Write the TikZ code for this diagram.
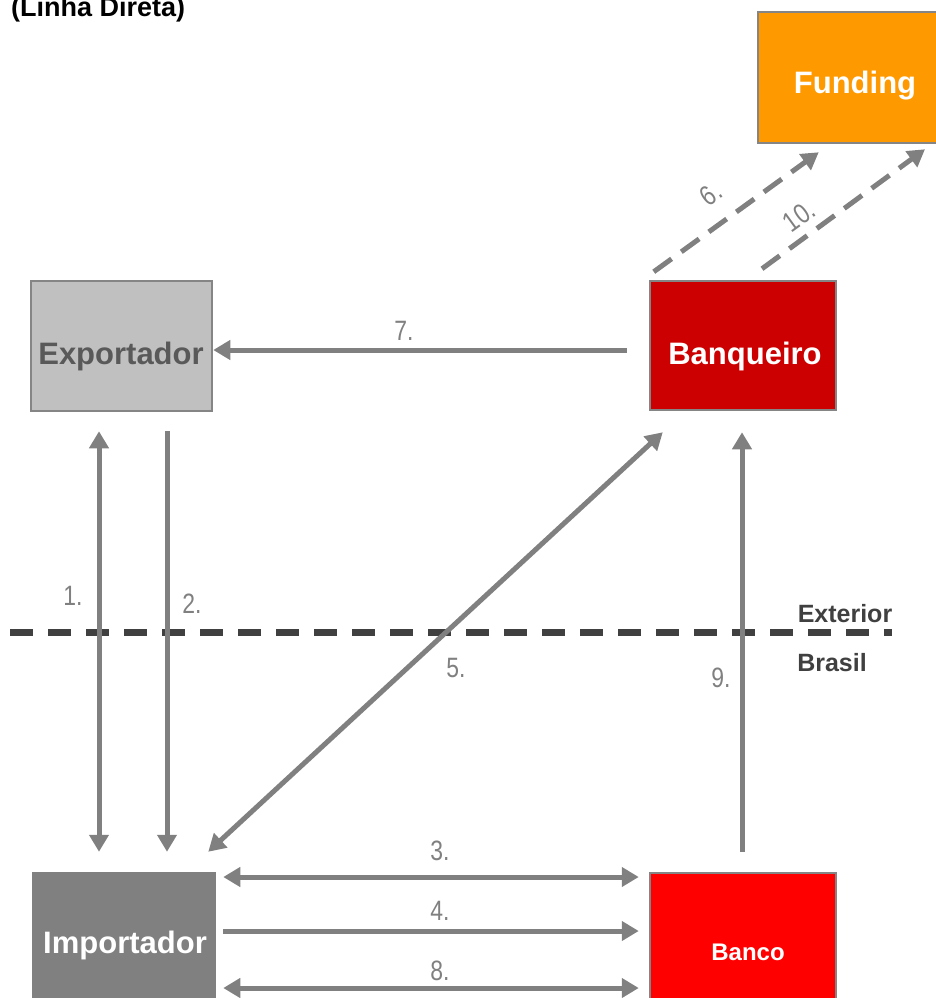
\documentclass[tikz,border=0pt]{standalone}
\usepackage{fontspec}
\setmainfont{Liberation Sans}
\newfontfamily\narrowfont[FakeStretch=0.82]{Liberation Sans}
\usetikzlibrary{arrows.meta}

\definecolor{flowgray}{HTML}{808080}
\definecolor{edgegray}{HTML}{858585}
\definecolor{darktext}{HTML}{404040}
\definecolor{exptext}{HTML}{595959}
\definecolor{expfill}{HTML}{C0C0C0}
\definecolor{impfill}{HTML}{808080}
\definecolor{fundfill}{HTML}{FF9900}
\definecolor{banqfill}{HTML}{CC0000}
\definecolor{bancofill}{HTML}{FF0000}

\tikzset{
  box/.style={draw=edgegray, line width=2.5pt, inner sep=0pt},
  boxtext/.style={font=\bfseries\fontsize{31}{36}\selectfont, inner sep=0pt},
  flow/.style={draw=flowgray, line width=5pt,
    arrows={-Triangle[length=17pt,width=19pt]}},
  flowboth/.style={flow, arrows={Triangle[length=17pt,width=19pt]-Triangle[length=17pt,width=19pt]}},
  flowdash/.style={flow, dash pattern=on 22pt off 12pt},
  steplabel/.style={text=flowgray, font=\narrowfont\fontsize{28}{32}\selectfont, inner sep=0pt},
  zonelabel/.style={text=darktext, font=\bfseries\fontsize{25}{30}\selectfont, inner sep=0pt}
}

\begin{document}
\begin{tikzpicture}[x=1pt,y=-1pt]
\useasboundingbox (0,0) rectangle (936,998);
\clip (0,0) rectangle (936,998);

% heading
\node[anchor=base west, inner sep=0pt, font=\bfseries\fontsize{27}{30}\selectfont]
  (title) at (11,17) {(Linha Direta)};

% parties
\node[box, fill=fundfill, minimum width=190pt, minimum height=131pt] (fund) at (853,77.5) {};
\node[box, fill=expfill, minimum width=181pt, minimum height=130pt] (exp) at (121.5,346) {};
\node[box, fill=banqfill, minimum width=186pt, minimum height=129pt] (ban) at (743,345.5) {};
\node[box, draw=impfill, fill=impfill, minimum width=182pt, minimum height=130pt] (imp) at (124,938) {};
\node[box, fill=bancofill, minimum width=186pt, minimum height=130pt] (banco) at (743,938) {};

\node[boxtext, text=white] (fundtext) at (855,86) {Funding};
\node[boxtext, text=exptext] (exptxt) at (121,356) {Exportador};
\node[boxtext, text=white] (bantext) at (745,356) {Banqueiro};
\node[boxtext, text=white] (imptext) at (125,945) {Importador};
\node[boxtext, text=white, font=\bfseries\fontsize{24}{28}\selectfont] (bancotext) at (748,952) {Banco};

% border between abroad and Brazil
\draw[draw=darktext, line width=7pt, dash pattern=on 23pt off 15pt] (10,632) -- (892,632);
\node[zonelabel] (exterior) at (845,614) {Exterior};
\node[zonelabel] (brasil) at (832,663) {Brasil};

% flows
\draw[flow] (0,350 -| ban.west) ++(-22,0) -- (0,350 -| exp.east);
\draw[flowboth, shorten <=19pt, shorten >=20pt] (99,0 |- exp.south) -- (99,0 |- imp.north);
\draw[flow, shorten <=19pt, shorten >=20pt] (167,0 |- exp.south) -- (167,0 |- imp.north);
\draw[flowboth] ([xshift=-8pt,yshift=20pt]imp.north east) -- ([xshift=14pt,yshift=-21pt]ban.south west);
\draw[flow, shorten <=20pt, shorten >=21pt] (742,0 |- banco.north) -- (742,0 |- ban.south);
\draw[flowboth, shorten <=7pt, shorten >=10pt] (0,877 -| imp.east) -- (0,877 -| banco.west);
\draw[flow, shorten <=7pt, shorten >=10pt] (0,931 -| imp.east) -- (0,931 -| banco.west);
\draw[flowboth, shorten <=7pt, shorten >=10pt] (0,988 -| imp.east) -- (0,988 -| banco.west);
\draw[flowdash] ([xshift=5pt,yshift=8pt]ban.north west) -- ([xshift=62pt,yshift=-8pt]fund.south west);
\draw[flowdash] ([xshift=19pt,yshift=11pt]ban.north) -- ([xshift=72pt,yshift=-5pt]fund.south);

% step numbers
\node[steplabel] (n1) at (73,596) {1.};
\node[steplabel] (n2) at (192,604) {2.};
\node[steplabel] (n3) at (440,851) {3.};
\node[steplabel] (n4) at (440,911) {4.};
\node[steplabel] (n5) at (456,668) {5.};
\node[steplabel, rotate=36] (n6) at (711,194) {6.};
\node[steplabel] (n7) at (404,331) {7.};
\node[steplabel] (n8) at (440,971) {8.};
\node[steplabel] (n9) at (721,678) {9.};
\node[steplabel, rotate=36] (n10) at (799,216) {10.};
\end{tikzpicture}
\end{document}
